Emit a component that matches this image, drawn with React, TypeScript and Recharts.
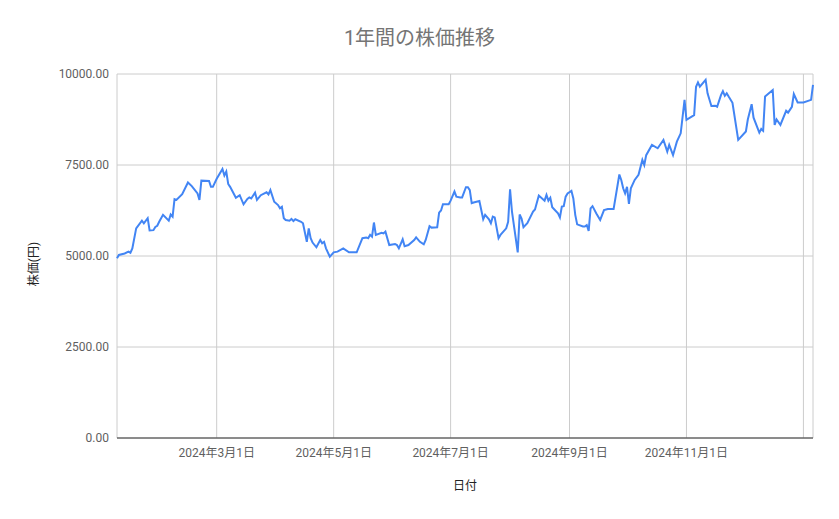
import React from 'react';
import { LineChart, Line, XAxis, YAxis, CartesianGrid } from 'recharts';

const dates = [
  '2024-01-09', '2024-01-10', '2024-01-13', '2024-01-15', '2024-01-16', '2024-01-17', '2024-01-19', '2024-01-22',
  '2024-01-23', '2024-01-25', '2024-01-26', '2024-01-28', '2024-01-29', '2024-01-30', '2024-01-31', '2024-02-02',
  '2024-02-05', '2024-02-06', '2024-02-07', '2024-02-08', '2024-02-09', '2024-02-12', '2024-02-15', '2024-02-17',
  '2024-02-20', '2024-02-21', '2024-02-22', '2024-02-26', '2024-02-27', '2024-02-28', '2024-03-01', '2024-03-04',
  '2024-03-05', '2024-03-06', '2024-03-07', '2024-03-08', '2024-03-11', '2024-03-13', '2024-03-15', '2024-03-17',
  '2024-03-18', '2024-03-19', '2024-03-21', '2024-03-22', '2024-03-24', '2024-03-27', '2024-03-28', '2024-03-29',
  '2024-03-31', '2024-04-02', '2024-04-03', '2024-04-04', '2024-04-05', '2024-04-06', '2024-04-08', '2024-04-09',
  '2024-04-10', '2024-04-11', '2024-04-14', '2024-04-15', '2024-04-17', '2024-04-18', '2024-04-19', '2024-04-20',
  '2024-04-22', '2024-04-24', '2024-04-25', '2024-04-26', '2024-04-27', '2024-04-29', '2024-05-01', '2024-05-03',
  '2024-05-06', '2024-05-09', '2024-05-13', '2024-05-16', '2024-05-18', '2024-05-19', '2024-05-20', '2024-05-21',
  '2024-05-22', '2024-05-23', '2024-05-26', '2024-05-27', '2024-05-28', '2024-05-30', '2024-06-02', '2024-06-03',
  '2024-06-04', '2024-06-06', '2024-06-07', '2024-06-09', '2024-06-12', '2024-06-13', '2024-06-15', '2024-06-17',
  '2024-06-18', '2024-06-20', '2024-06-21', '2024-06-24', '2024-06-25', '2024-06-26', '2024-06-27', '2024-06-30',
  '2024-07-01', '2024-07-03', '2024-07-04', '2024-07-06', '2024-07-07', '2024-07-09', '2024-07-10', '2024-07-11',
  '2024-07-12', '2024-07-13', '2024-07-16', '2024-07-18', '2024-07-19', '2024-07-21', '2024-07-22', '2024-07-23',
  '2024-07-24', '2024-07-26', '2024-07-27', '2024-07-30', '2024-07-31', '2024-08-01', '2024-08-02', '2024-08-05',
  '2024-08-06', '2024-08-07', '2024-08-08', '2024-08-10', '2024-08-13', '2024-08-14', '2024-08-16', '2024-08-19',
  '2024-08-20', '2024-08-21', '2024-08-22', '2024-08-23', '2024-08-26', '2024-08-27', '2024-08-28', '2024-08-29',
  '2024-08-30', '2024-08-31', '2024-09-02', '2024-09-03', '2024-09-04', '2024-09-05', '2024-09-08', '2024-09-09',
  '2024-09-10', '2024-09-11', '2024-09-12', '2024-09-13', '2024-09-15', '2024-09-17', '2024-09-19', '2024-09-21',
  '2024-09-24', '2024-09-27', '2024-09-28', '2024-09-29', '2024-09-30', '2024-10-01', '2024-10-02', '2024-10-03',
  '2024-10-05', '2024-10-07', '2024-10-09', '2024-10-10', '2024-10-11', '2024-10-14', '2024-10-17', '2024-10-20',
  '2024-10-22', '2024-10-23', '2024-10-25', '2024-10-27', '2024-10-29', '2024-10-31', '2024-11-01', '2024-11-05',
  '2024-11-06', '2024-11-07', '2024-11-08', '2024-11-11', '2024-11-12', '2024-11-14', '2024-11-16', '2024-11-17',
  '2024-11-19', '2024-11-20', '2024-11-21', '2024-11-22', '2024-11-23', '2024-11-25', '2024-11-28', '2024-12-02',
  '2024-12-03', '2024-12-05', '2024-12-06', '2024-12-09', '2024-12-10', '2024-12-11', '2024-12-12', '2024-12-16',
  '2024-12-17', '2024-12-18', '2024-12-20', '2024-12-23', '2024-12-24', '2024-12-26', '2024-12-27', '2024-12-29',
  '2025-01-01', '2025-01-05', '2025-01-06',
];

const prices = [
  4940, 5030, 5070, 5120, 5090, 5210, 5760, 5970,
  5900, 6040, 5700, 5710, 5800, 5830, 5940, 6130,
  5970, 6140, 6080, 6560, 6540, 6700, 7020, 6920,
  6720, 6540, 7070, 7060, 6900, 6900, 7120, 7390,
  7210, 7320, 6980, 6900, 6600, 6670, 6420, 6570,
  6610, 6580, 6740, 6540, 6670, 6750, 6690, 6810,
  6490, 6400, 6310, 6350, 6040, 5990, 5970, 6020,
  5960, 6010, 5940, 5900, 5390, 5760, 5490, 5370,
  5240, 5440, 5350, 5390, 5210, 4980, 5100, 5120,
  5210, 5100, 5100, 5490, 5510, 5490, 5580, 5530,
  5920, 5580, 5640, 5620, 5670, 5300, 5330, 5300,
  5210, 5460, 5270, 5300, 5440, 5510, 5390, 5320,
  5440, 5820, 5780, 5790, 6190, 6250, 6420, 6420,
  6520, 6770, 6630, 6610, 6610, 6890, 6890, 6810,
  6450, 6470, 6510, 6010, 6130, 6010, 5900, 6080,
  6060, 5490, 5580, 5760, 5940, 6830, 6220, 5100,
  6140, 6030, 5790, 5900, 6220, 6280, 6660, 6520,
  6680, 6520, 6600, 6340, 6170, 6060, 6360, 6370,
  6630, 6720, 6790, 6580, 6130, 5870, 5810, 5810,
  5850, 5690, 6310, 6370, 6170, 5990, 6260, 6290,
  6290, 7240, 7090, 6860, 6720, 6900, 6430, 6860,
  7090, 7230, 7640, 7500, 7770, 8050, 7960, 8190,
  7870, 8050, 7770, 8140, 8370, 9290, 8740, 8870,
  9650, 9770, 9650, 9840, 9470, 9120, 9130, 9100,
  9420, 9530, 9400, 9470, 9380, 9210, 8190, 8420,
  8750, 9170, 8800, 8390, 8490, 8440, 9380, 9560,
  8600, 8750, 8600, 8990, 8940, 9100, 9450, 9220,
  9220, 9290, 9700,
];

const yTicks = [0, 2500, 5000, 7500, 10000];
const xTickDates = ['2024-03-01', '2024-05-01', '2024-07-01', '2024-09-01', '2024-11-01', '2025-01-01'];
const xTickLabels = ['2024年3月1日', '2024年5月1日', '2024年7月1日', '2024年9月1日', '2024年11月1日', ''];

const title = '1年間の株価推移';
const xAxisTitle = '日付';
const yAxisTitle = '株価(円)';

const data = dates.map((d, i) => ({ t: Date.parse(d), price: prices[i] }));
const xTicks = xTickDates.map((d) => Date.parse(d));

const FONT = "Roboto, 'Noto Sans CJK JP', sans-serif";

export default function App() {
  return (
    <div style={{ position: 'absolute', left: 0, top: 0, width: 839, height: 519, background: '#ffffff', fontFamily: FONT }}>
      <LineChart width={839} height={519} data={data} margin={{ top: 74, right: 26, bottom: 26, left: 30 }}>
        <CartesianGrid stroke="#cccccc" strokeWidth={1} />
        <XAxis
          dataKey="t"
          type="number"
          scale="time"
          domain={['dataMin', 'dataMax']}
          ticks={xTicks}
          tickFormatter={(v: number) => {
            const i = xTicks.indexOf(v);
            return i >= 0 ? xTickLabels[i] : '';
          }}
          axisLine={{ stroke: '#333333', strokeWidth: 1 }}
          tickLine={false}
          tickMargin={4}
          tick={{ fill: '#5f5f5f', fontSize: 12, fontFamily: FONT }}
          height={55}
          interval={0}
        />
        <YAxis
          type="number"
          domain={[0, 10000]}
          ticks={yTicks}
          tickFormatter={(v: number) => v.toFixed(2)}
          axisLine={false}
          tickLine={false}
          tick={{ fill: '#5f5f5f', fontSize: 12, fontFamily: FONT }}
          width={87}
          interval={0}
        />
        <Line
          type="linear"
          dataKey="price"
          stroke="#4285F4"
          strokeWidth={2}
          dot={false}
          activeDot={false}
          isAnimationActive={false}
        />
      </LineChart>
      <svg width={839} height={519} style={{ position: 'absolute', left: 0, top: 0, pointerEvents: 'none' }}>
        <text x={419.5} y={45} textAnchor="middle" fontSize={20} fill="#757575" fontFamily={FONT}>{title}</text>
        <text x={465} y={490} textAnchor="middle" fontSize={12} fill="#222222" fontFamily={FONT}>{xAxisTitle}</text>
        <text x={38} y={264} textAnchor="middle" fontSize={12} fill="#222222" fontFamily={FONT} transform="rotate(-90, 38, 264)">{yAxisTitle}</text>
      </svg>
    </div>
  );
}
